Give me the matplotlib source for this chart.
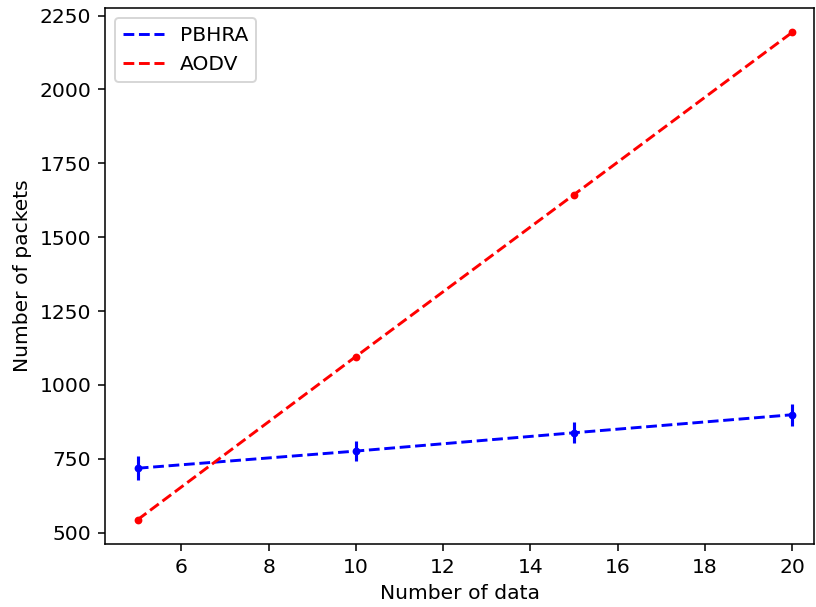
import matplotlib
matplotlib.use("Agg")
import matplotlib.pyplot as plt

x = [5, 10, 15, 20]
pbhra = [718, 776, 838, 899]
pbhra_err = [40, 35, 36, 38]
aodv = [544, 1096, 1644, 2193]

plt.rcParams['font.size'] = 10.4

DPI = 140
fig = plt.figure(figsize=(816 / DPI, 607 / DPI), dpi=DPI)
W, H = 816, 607
ax = fig.add_axes([105 / W, (H - 544) / H, (814 - 105) / W, (544 - 8) / H])

ax.plot(x, pbhra, 'b--', label='PBHRA')
ax.errorbar(x, pbhra, yerr=pbhra_err, fmt='b.', elinewidth=1.6)
ax.plot(x, aodv, 'r--', label='AODV')
ax.plot(x, aodv, 'r.')

ax.set_xlim(4.25, 20.5)
ax.set_xlabel('Number of data')
ax.set_ylabel('Number of packets')
ax.legend(loc='upper left')

fig.savefig('out.png', dpi=DPI)
